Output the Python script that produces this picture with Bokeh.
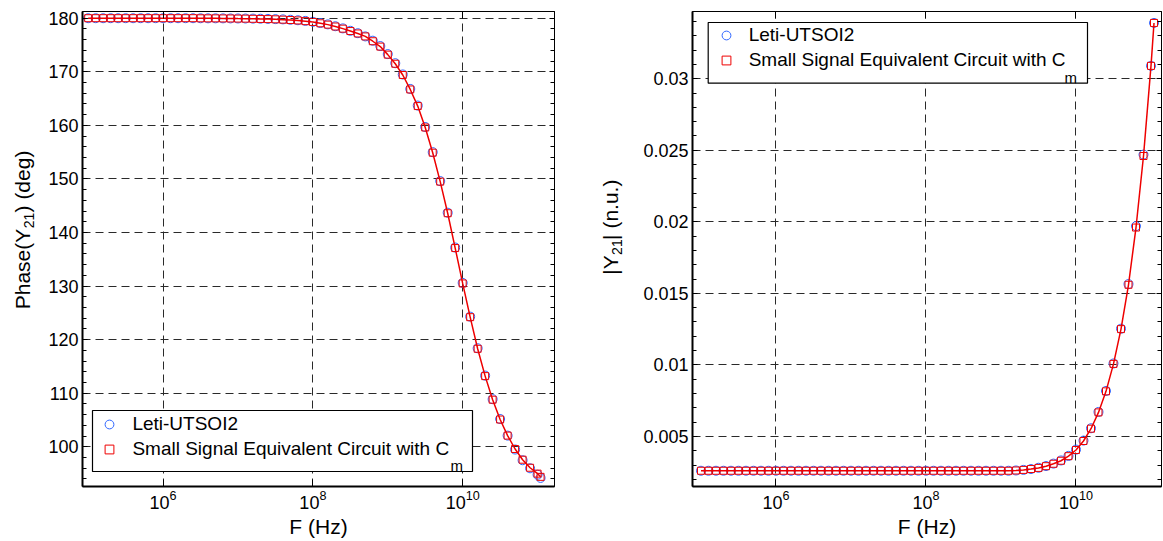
import math
from bokeh.plotting import figure
from bokeh.models import (FixedTicker, LogAxis, LinearAxis, Range1d, Legend, LegendItem,
                          Label, BoxAnnotation, CustomJSTickFormatter)
from bokeh.core.properties import value
from bokeh.layouts import row
from bokeh.embed import file_html
from bokeh.resources import INLINE

# ---------------- data ----------------
log_f = [5.0, 5.1, 5.2, 5.3, 5.4, 5.5, 5.6, 5.7, 5.8, 5.9,
         6.0, 6.1, 6.2, 6.3, 6.4, 6.5, 6.6, 6.7, 6.8, 6.9,
         7.0, 7.1, 7.2, 7.3, 7.4, 7.5, 7.6, 7.7, 7.8, 7.9,
         8.0, 8.1, 8.2, 8.3, 8.4, 8.5, 8.6, 8.7, 8.8, 8.9,
         9.0, 9.1, 9.2, 9.3, 9.4, 9.5, 9.6, 9.7, 9.8, 9.9,
         10.0, 10.1, 10.2, 10.3, 10.4, 10.5, 10.6, 10.7, 10.8, 10.9,
         11.0, 11.04]
freq_hz = [10 ** v for v in log_f]

phase_ssec = [180.0, 180.0, 180.0, 180.0, 180.0, 180.0, 180.0, 180.0, 180.0, 180.0,
              180.0, 180.0, 180.0, 180.0, 180.0, 179.98, 179.97, 179.97, 179.96, 179.95,
              179.93, 179.92, 179.89, 179.86, 179.83, 179.79, 179.73, 179.66, 179.58, 179.45,
              179.3, 179.05, 178.8, 178.45, 178.05, 177.6, 177.15, 176.6, 175.7, 174.7,
              173.2, 171.5, 169.4, 166.7, 163.6, 159.6, 154.9, 149.5, 143.6, 137.1,
              130.5, 124.2, 118.3, 113.2, 108.8, 105.1, 102.1, 99.6, 97.6, 96.1,
              95.0, 94.4]
phase_leti = [180.0, 180.0, 180.0, 180.0, 180.0, 180.0, 180.0, 180.0, 180.0, 180.0,
              180.0, 180.0, 180.0, 180.0, 180.0, 179.99, 179.98, 179.98, 179.97, 179.96,
              179.95, 179.94, 179.92, 179.9, 179.87, 179.83, 179.78, 179.71, 179.62, 179.5,
              179.33, 179.1, 178.85, 178.5, 178.1, 177.65, 177.2, 176.6, 175.8, 174.8,
              173.3, 171.6, 169.5, 166.8, 163.7, 159.7, 155.0, 149.6, 143.7, 137.2,
              130.6, 124.3, 118.4, 113.3, 108.9, 105.2, 102.1, 99.5, 97.5, 96.0,
              94.8, 94.2]

y21_ssec = [0.0026, 0.0026, 0.0026, 0.0026, 0.0026, 0.0026, 0.0026, 0.0026, 0.0026, 0.0026,
            0.0026, 0.0026, 0.0026, 0.0026, 0.0026, 0.0026, 0.0026, 0.0026, 0.0026, 0.0026,
            0.0026, 0.0026, 0.0026, 0.0026, 0.0026, 0.0026, 0.0026, 0.0026, 0.0026, 0.0026,
            0.0026, 0.0026, 0.0026, 0.0026, 0.0026, 0.0026, 0.0026, 0.0026, 0.0026, 0.0026,
            0.0026, 0.0026, 0.00262, 0.00266, 0.00272, 0.0028, 0.00292, 0.00309, 0.0033, 0.00362,
            0.00405, 0.00468, 0.00554, 0.00668, 0.00815, 0.01007, 0.0125, 0.0156, 0.0196, 0.0246,
            0.0309, 0.0339]
y21_leti = [0.0026, 0.0026, 0.0026, 0.0026, 0.0026, 0.0026, 0.0026, 0.0026, 0.0026, 0.0026,
            0.0026, 0.0026, 0.0026, 0.0026, 0.0026, 0.0026, 0.0026, 0.0026, 0.0026, 0.0026,
            0.0026, 0.0026, 0.0026, 0.0026, 0.0026, 0.0026, 0.0026, 0.0026, 0.0026, 0.0026,
            0.0026, 0.0026, 0.0026, 0.0026, 0.0026, 0.0026, 0.0026, 0.0026, 0.0026, 0.0026,
            0.0026, 0.0026, 0.00262, 0.00266, 0.00272, 0.00281, 0.00293, 0.0031, 0.00332, 0.00364,
            0.00408, 0.00471, 0.00557, 0.00671, 0.00818, 0.0101, 0.01253, 0.01565, 0.0197, 0.0247,
            0.0309, 0.0339]

x_ticks = [1e6, 1e8, 1e10]
phase_ticks = [100, 110, 120, 130, 140, 150, 160, 170, 180]
phase_minor = [94, 96, 98, 102, 104, 106, 108, 112, 114, 116, 118, 122, 124, 126, 128,
               132, 134, 136, 138, 142, 144, 146, 148, 152, 154, 156, 158, 162, 164, 166, 168,
               172, 174, 176, 178]
y21_ticks = [0.005, 0.01, 0.015, 0.02, 0.025, 0.03]
y21_minor = [0.002, 0.003, 0.004, 0.006, 0.007, 0.008, 0.009, 0.011, 0.012, 0.013, 0.014,
             0.016, 0.017, 0.018, 0.019, 0.021, 0.022, 0.023, 0.024, 0.026, 0.027, 0.028,
             0.029, 0.031, 0.032, 0.033, 0.034]

legend_labels = ["Leti-UTSOI2", "Small Signal Equivalent Circuit with C"]

FONT = "Liberation Sans"
BLUE = "#2f66ff"
RED = "#ee0000"
H = 541

# Arial / Liberation Sans advance widths (em) for label layout
ADV = {'P': .667, 'h': .556, 'a': .556, 's': .5, 'e': .556, '(': .333, ')': .333, 'Y': .667,
       ' ': .278, 'd': .556, 'g': .556, '|': .26, 'n': .556, '.': .278, 'u': .556,
       '1': .556, '2': .556}


def tw(s, size):
    return sum(ADV.get(c, .556) for c in s) * size


def empty_fmt():
    return CustomJSTickFormatter(code="return ''")


def make_fig(width, border_left, border_right, border_top, border_bottom, xr, yr,
             y_major, y_minor):
    p = figure(width=width, height=H, x_axis_type="log",
               x_range=Range1d(*xr), y_range=Range1d(*yr),
               output_backend="svg", toolbar_location=None,
               min_border_left=border_left, min_border_right=border_right,
               min_border_top=border_top, min_border_bottom=border_bottom)
    p.background_fill_color = "white"
    p.border_fill_color = "white"
    p.outline_line_color = "black"
    p.outline_line_alpha = 1.0
    p.outline_line_width = 1

    xt = FixedTicker(ticks=x_ticks, minor_ticks=[])
    yt = FixedTicker(ticks=y_major, minor_ticks=y_minor)

    xa = p.xaxis[0]
    xa.ticker = xt
    xa.major_tick_in = 7
    xa.major_tick_out = 0
    xa.minor_tick_in = 0
    xa.minor_tick_out = 0
    xa.axis_line_width = 2
    xa.major_label_text_font = FONT
    xa.major_label_text_font_size = "18px"
    xa.major_label_text_color = "black"
    xa.major_label_standoff = 3
    xa.axis_label = "F (Hz)"
    xa.axis_label_text_font = FONT
    xa.axis_label_text_font_size = "21px"
    xa.axis_label_text_font_style = "normal"
    xa.axis_label_text_color = "black"
    xa.axis_label_standoff = 3

    ya = p.yaxis[0]
    ya.ticker = yt
    ya.major_tick_in = 5
    ya.major_tick_out = 0
    ya.minor_tick_in = 4
    ya.minor_tick_out = 0
    ya.axis_line_width = 2
    ya.major_label_text_font = FONT
    ya.major_label_text_font_size = "18px"
    ya.major_label_text_color = "black"
    ya.major_label_standoff = 4

    top = LogAxis(ticker=xt, formatter=empty_fmt(), major_tick_in=7, major_tick_out=0,
                  minor_tick_in=0, minor_tick_out=0, major_label_standoff=0,
                  major_label_text_font_size="0px")
    p.add_layout(top, "above")
    right = LinearAxis(ticker=yt, formatter=empty_fmt(), major_tick_in=5, major_tick_out=0,
                       minor_tick_in=4, minor_tick_out=0, major_label_standoff=0,
                       major_label_text_font_size="0px")
    p.add_layout(right, "right")

    p.xgrid.ticker = xt
    p.ygrid.ticker = FixedTicker(ticks=y_major)
    p.grid.grid_line_color = "#2a2a2a"
    p.grid.grid_line_dash = "8 5"
    p.grid.grid_line_width = 1
    return p


def add_series(p, y_leti, y_ssec):
    rc = p.scatter(freq_hz, y_leti, marker="circle", size=9, fill_color=None,
                   line_color=BLUE, line_width=1)
    p.line(freq_hz, y_ssec, line_color=RED, line_width=1.5)
    rs = p.scatter(freq_hz, y_ssec, marker="square", size=7, fill_color=None,
                   line_color=RED, line_width=1)
    return rc, rs


def add_legend(p, rc, rs, box, loc, sub_xy):
    p.add_layout(BoxAnnotation(left=box[0], right=box[1], bottom=box[2], top=box[3],
                               left_units="screen", right_units="screen",
                               bottom_units="screen", top_units="screen",
                               fill_color="white", fill_alpha=1.0,
                               line_color="black", line_alpha=1.0, line_width=1.2,
                               level="annotation"))
    leg = Legend(items=[LegendItem(label=legend_labels[0], renderers=[rc]),
                        LegendItem(label=legend_labels[1], renderers=[rs])],
                 location=loc, padding=2, spacing=3, margin=0,
                 glyph_width=22, glyph_height=22, label_height=22, label_standoff=12,
                 label_text_font=FONT, label_text_font_size="19px",
                 label_text_color="black",
                 border_line_color=None, background_fill_alpha=0.0)
    p.add_layout(leg)
    p.add_layout(Label(x=sub_xy[0], y=sub_xy[1], x_units="screen", y_units="screen",
                       text="m", text_font=FONT, text_font_size="15px",
                       text_baseline="alphabetic", text_align="left", text_color="black"))


def label_strip(width, pre, post, center_y, base_x, gap):
    """A narrow figure holding a rotated y-axis title with a '21' subscript."""
    s = figure(width=width, height=H, x_range=Range1d(0, width), y_range=Range1d(0, H),
               output_backend="svg", toolbar_location=None,
               x_axis_location=None, y_axis_location=None, min_border=0)
    s.grid.visible = False
    s.outline_line_color = None
    s.background_fill_color = "white"
    s.border_fill_color = "white"
    size, sub = 21, 14
    w1, ws, w3 = tw(pre, size), tw("21", sub), tw(post, size)
    total = w1 + ws + gap + w3
    y0 = center_y - total / 2 + w1
    common = dict(angle=math.pi / 2, text_font=value(FONT), text_baseline="alphabetic",
                  text_color="black")
    s.text(x=[base_x], y=[y0], text=[pre], text_align="right",
           text_font_size=value(f"{size}px"), **common)
    s.text(x=[base_x + 6], y=[y0 + 0.5], text=["21"], text_align="left",
           text_font_size=value(f"{sub}px"), **common)
    s.text(x=[base_x], y=[y0 + ws + gap], text=[post], text_align="left",
           text_font_size=value(f"{size}px"), **common)
    return s


# ---------------- left: phase ----------------
lab1 = label_strip(45, "Phase(Y", ") (deg)", H - 247.5, 22, 3)
p1 = make_fig(553, 37, 44, 9, 55, (10 ** 4.924, 10 ** 11.226), (92.6, 181.25),
              phase_ticks, phase_minor)
rc1, rs1 = add_series(p1, phase_leti, phase_ssec)
add_legend(p1, rc1, rs1, box=(10, 390, 15, 76), loc=(16.4, 26.3), sub_xy=(368, 21))

# ---------------- right: |Y21| ----------------
lab2 = label_strip(36, "|Y", "| (n.u.)", H - 248.5, 12, 2)
p2 = make_fig(528, 58, 1, 11, 55, (10 ** 4.887, 10 ** 11.14), (0.0015, 0.0347),
              y21_ticks, y21_minor)
rc2, rs2 = add_series(p2, y21_leti, y21_ssec)
add_legend(p2, rc2, rs2, box=(15.7, 395, 403.3, 464), loc=(22.7, 415), sub_xy=(372, 409.3))

layout = row(lab1, p1, lab2, p2)
open("out.html", "w").write(file_html(layout, INLINE))
